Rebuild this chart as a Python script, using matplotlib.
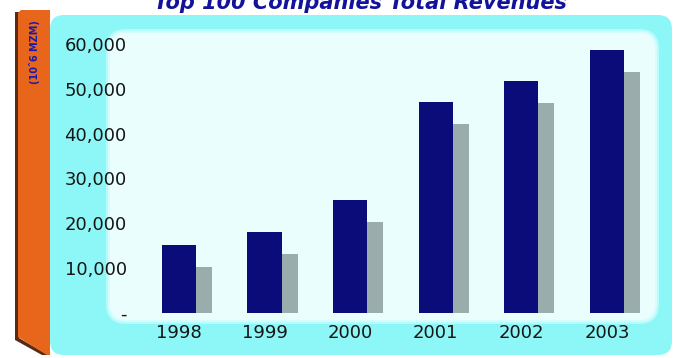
import matplotlib
matplotlib.use('Agg')

import matplotlib.pyplot as plt
import matplotlib.transforms as mtransforms
from matplotlib.patches import FancyBboxPatch, Polygon
import numpy as np

#=====Data=====
years = ['1998', '1999', '2000', '2001', '2002', '2003']
revenues = [15200, 18100, 25300, 47000, 51700, 58700]   # 10^6 MZM
y_ticks = [0, 10000, 20000, 30000, 40000, 50000, 60000]
y_tick_labels = ['-', '10,000', '20,000', '30,000', '40,000', '50,000', '60,000']
#==============

W, H, DPI = 676, 358, 100
BAR_COLOR = '#0b0b7a'
SHADOW_COLOR = '#9aacac'
TEXT_COLOR = '#151515'

fig = plt.figure(figsize=(W / DPI, H / DPI), dpi=DPI)
fig.patch.set_facecolor('white')
px = mtransforms.IdentityTransform()

def add_bg(patch):
    # background shapes go under the axes
    patch.set_zorder(-1)
    fig.patches.append(patch)

# orange spine on the left with a darker edge
add_bg(Polygon([(15, 346), (19, 346), (19, 20), (48, 3), (42, 3), (15, 18)],
               closed=True, facecolor='#5a2a12', edgecolor='none', transform=px))
add_bg(Polygon([(18, 345), (21, 348), (50, 348), (50, 3), (47, 3), (18, 21)],
               closed=True, facecolor='#e8651c', edgecolor='none', transform=px))

# cyan backing panel
add_bg(FancyBboxPatch((50, 3), 622, 340, boxstyle='round,pad=0,rounding_size=14',
                      facecolor='#8df7f7', edgecolor='none', transform=px))

# soft light plot panel (a few layers to blur the edge)
for grow, col in [(4, '#b8fbfb'), (2, '#d6fdfd'), (0, '#ebfefe')]:
    add_bg(FancyBboxPatch((110 - grow, 38 - grow), 545 + 2 * grow, 287 + 2 * grow,
                          boxstyle='round,pad=0,rounding_size=%d' % (16 + grow),
                          facecolor=col, edgecolor='none', transform=px))

ax = fig.add_axes([135 / W, 45 / H, (660 - 135) / W, (313 - 30) / H])
ax.patch.set_alpha(0)

x = np.arange(len(years))
width = 0.4

# drop shadow: same bars shifted right and down, clipped at the baseline
shadow_tr = ax.transData + mtransforms.ScaledTranslation(16 / DPI, -22 / DPI, fig.dpi_scale_trans)
ax.bar(x, revenues, width=width, color=SHADOW_COLOR, transform=shadow_tr, zorder=1)
ax.bar(x, revenues, width=width, color=BAR_COLOR, zorder=2)

ax.set_xlim(-0.514, 5.62)
ax.set_ylim(0, 63120)
ax.set_xticks(x)
ax.set_xticklabels(years)
ax.set_yticks(y_ticks)
ax.set_yticklabels(y_tick_labels)
ax.tick_params(axis='both', length=0, labelsize=13, colors=TEXT_COLOR)
ax.tick_params(axis='x', pad=8)
ax.tick_params(axis='y', pad=6)
for s in ax.spines.values():
    s.set_visible(False)

fig.text(35 / W, 1 - 52 / H, '(10ˆ6 MZM)', rotation=90, ha='center', va='center',
         fontsize=7, fontweight='bold', color='#1c1ca8')

# title sits partly above the top edge
fig.text(360 / W, 1 - 9 / H, 'Top 100 Companies Total Revenues', ha='center', va='baseline',
         fontsize=15, fontweight='bold', fontstyle='italic', color='#12129a')

plt.savefig('out.png', dpi=DPI)
